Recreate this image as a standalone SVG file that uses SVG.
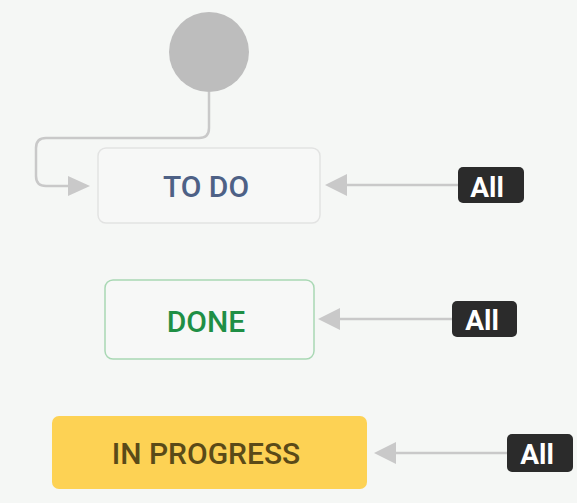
<svg xmlns="http://www.w3.org/2000/svg" width="577" height="503" viewBox="0 0 577 503">
<style>
.conn{fill:none;stroke:#c9c9c9;stroke-width:2.5}
.head{fill:#c9c9c9}
.lbl{fill:#2b2b2b}
.lbltxt{font-family:Roboto,"Liberation Sans",sans-serif;font-weight:700;font-size:28px;fill:#ffffff;text-anchor:middle}
.ntxt{font-family:Roboto,"Liberation Sans",sans-serif;font-weight:500;font-size:30px;text-anchor:middle}
</style>
<rect width="577" height="503" fill="#f5f7f5"/>
<g id="start">
<circle cx="209" cy="52" r="40" fill="#bdbdbd"/>
</g>
<g id="todo">
<rect x="98" y="148" width="222" height="75" rx="8" fill="#f7f8f7" stroke="#e2e3e2" stroke-width="1.5"/>
<text class="ntxt" x="206" y="197" fill="#4e6186">TO DO</text>
</g>
<g id="done">
<rect x="105" y="280" width="209" height="79" rx="8" fill="#f7f8f7" stroke="#a9d8b4" stroke-width="1.5"/>
<text class="ntxt" x="206" y="332" fill="#1f8f45">DONE</text>
</g>
<g id="inprogress">
<rect x="52" y="416" width="315" height="73" rx="7" fill="#fdd254"/>
<text class="ntxt" x="206" y="464" fill="#5a4a18">IN PROGRESS</text>
</g>
<g id="connectors">
<path class="conn" d="M209 92 V128 Q209 138 199 138 H46 Q36 138 36 148 V176 Q36 186 46 186 H72"/>
<polygon class="head" points="90,186 68,176 68,196"/>
<path class="conn" d="M458 185 H345"/>
<polygon class="head" points="325,185 347,174 347,196"/>
<path class="conn" d="M452 319 H338"/>
<polygon class="head" points="318,319 340,308 340,330"/>
<path class="conn" d="M507 453 H394"/>
<polygon class="head" points="374,453 396,442 396,464"/>
</g>
<g id="label-todo">
<rect class="lbl" x="458" y="167" width="66" height="36" rx="5"/>
<text class="lbltxt" x="487" y="197">All</text>
</g>
<g id="label-done">
<rect class="lbl" x="452" y="301" width="65" height="36" rx="5"/>
<text class="lbltxt" x="482" y="330">All</text>
</g>
<g id="label-inprogress">
<rect class="lbl" x="507" y="434" width="66" height="38" rx="5"/>
<text class="lbltxt" x="537" y="464">All</text>
</g>
</svg>
